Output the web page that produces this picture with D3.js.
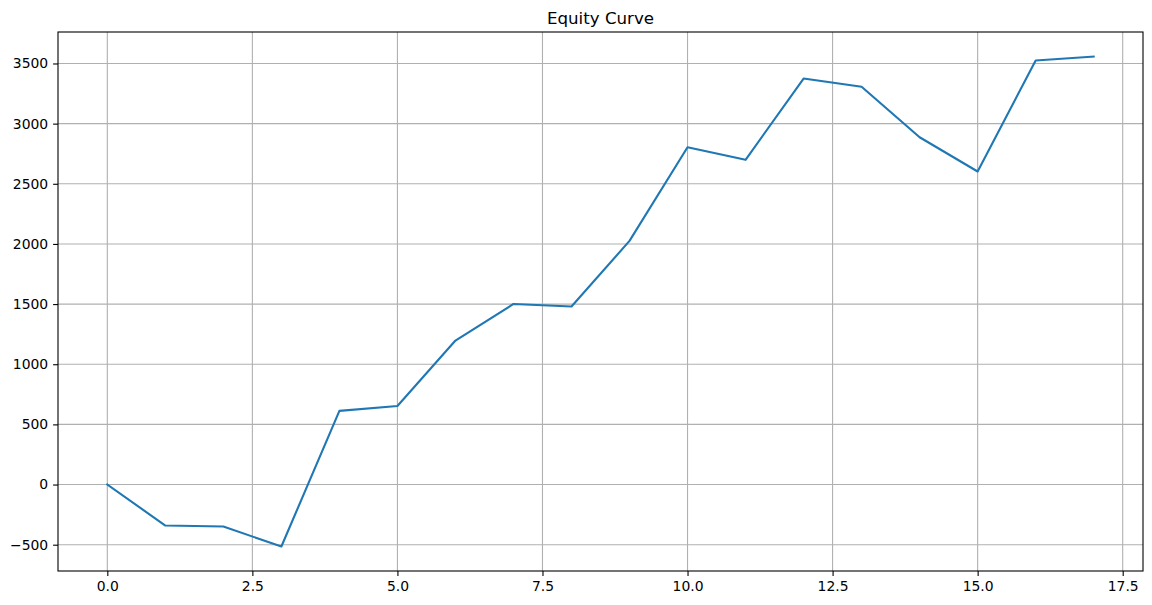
<!DOCTYPE html>
<html>
<head>
<meta charset="utf-8">
<script src="https://cdn.jsdelivr.net/npm/d3@7"></script>
<style>
  html, body { margin: 0; padding: 0; background: #fff; }
  svg { display: block; }
  text { font-family: "DejaVu Sans", sans-serif; fill: #000; }
</style>
</head>
<body>
<svg id="chart" width="1152" height="605"></svg>
<script>
const steps = [0,1,2,3,4,5,6,7,8,9,10,11,12,13,14,15,16,17];
const equity = [0,-341,-349,-515,612,653,1197,1501,1480,2025,2804,2699,3375,3306,2887,2602,3525,3558];
const xTicks = [0,2.5,5,7.5,10,12.5,15,17.5];
const yTicks = [-500,0,500,1000,1500,2000,2500,3000,3500];
const title = "Equity Curve";

const W = 1152, H = 605;
const m = {left: 58, right: 1143, top: 32, bottom: 571};
const svg = d3.select("#chart");

const xMin = d3.min(steps), xMax = d3.max(steps);
const yMin = d3.min(equity), yMax = d3.max(equity);
const xPad = (xMax - xMin) * 0.05, yPad = (yMax - yMin) * 0.05;

const x = d3.scaleLinear().domain([xMin - xPad, xMax + xPad]).range([m.left, m.right]);
const y = d3.scaleLinear().domain([yMin - yPad, yMax + yPad]).range([m.bottom, m.top]);

// grid
const grid = svg.append("g");
grid.selectAll(".gx").data(xTicks).enter().append("line")
  .attr("x1", d => x(d)).attr("x2", d => x(d))
  .attr("y1", m.top).attr("y2", m.bottom)
  .attr("stroke", "#b0b0b0").attr("stroke-width", 1.1);
grid.selectAll(".gy").data(yTicks).enter().append("line")
  .attr("y1", d => y(d)).attr("y2", d => y(d))
  .attr("x1", m.left).attr("x2", m.right)
  .attr("stroke", "#b0b0b0").attr("stroke-width", 1.1);

// line
const line = d3.line().x((d, i) => x(steps[i])).y(d => y(d));
svg.append("path").datum(equity)
  .attr("d", line)
  .attr("fill", "none")
  .attr("stroke", "#1f77b4")
  .attr("stroke-width", 2.1)
  .attr("stroke-linejoin", "round")
  .attr("stroke-linecap", "square");

// axes
const xAxis = d3.axisBottom(x).tickValues(xTicks).tickFormat(d3.format(".1f")).tickSize(4.9).tickPadding(4.9);
const yAxis = d3.axisLeft(y).tickValues(yTicks).tickFormat(d3.format("d")).tickSize(4.9).tickPadding(4.9);

const gx = svg.append("g").attr("transform", `translate(0,${m.bottom})`).call(xAxis);
const gy = svg.append("g").attr("transform", `translate(${m.left},0)`).call(yAxis);
[gx, gy].forEach(g => {
  g.select(".domain").remove();
  g.selectAll(".tick line").attr("stroke", "#000").attr("stroke-width", 1.1);
  g.selectAll(".tick text").style("font-family", "DejaVu Sans, sans-serif").style("font-size", "13.9px").attr("fill", "#000");
});

// frame
svg.append("rect")
  .attr("x", m.left).attr("y", m.top)
  .attr("width", m.right - m.left).attr("height", m.bottom - m.top)
  .attr("fill", "none").attr("stroke", "#000").attr("stroke-width", 1.1);

// title
svg.append("text")
  .attr("x", (m.left + m.right) / 2).attr("y", m.top - 8.3)
  .attr("text-anchor", "middle")
  .style("font-size", "16.67px")
  .text(title);
</script>
</body>
</html>
